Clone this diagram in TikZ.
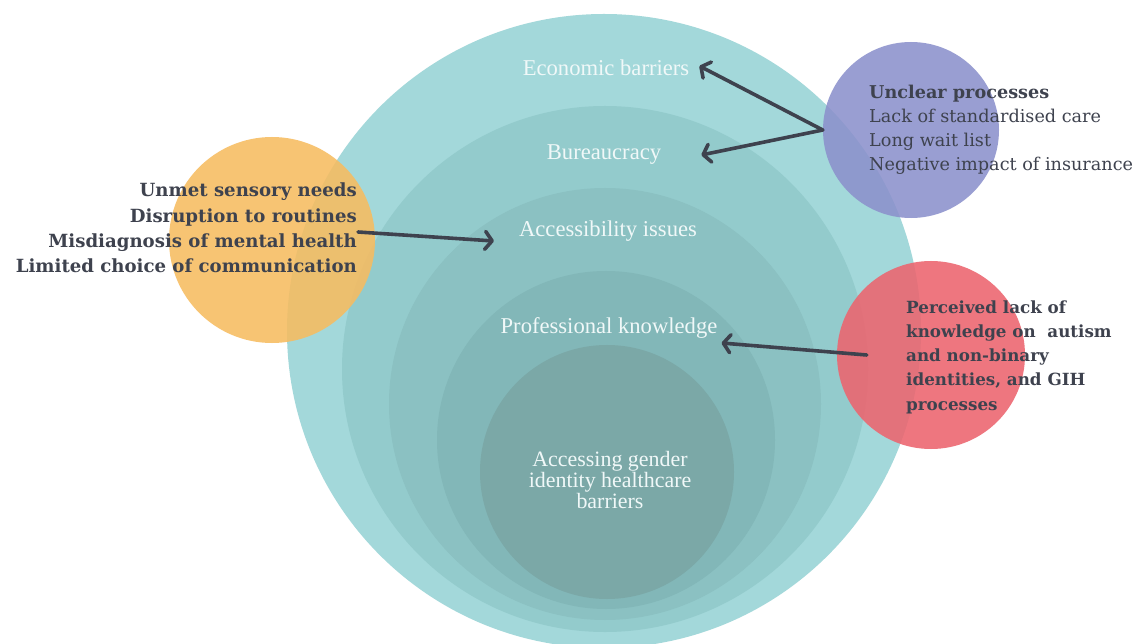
\documentclass[tikz,border=0pt]{standalone}
\usepackage{fontspec}
\setmainfont{Liberation Serif}
\newfontfamily\dvs{DejaVu Serif}
\usetikzlibrary{arrows.meta}
\definecolor{tealA}{RGB}{163,216,218}
\definecolor{tealB}{RGB}{147,203,204}
\definecolor{tealC}{RGB}{139,193,194}
\definecolor{tealD}{RGB}{130,183,184}
\definecolor{tealE}{RGB}{123,168,167}
\definecolor{orangeC}{RGB}{247,188,96}
\definecolor{purpleC}{RGB}{140,145,204}
\definecolor{redC}{RGB}{236,100,110}
\definecolor{inkC}{RGB}{62,66,78}
\definecolor{labelC}{RGB}{240,248,248}
\tikzset{
  layer/.style={circle, inner sep=0pt, draw=none},
  blob/.style={circle, inner sep=0pt, draw=none, fill opacity=0.88},
  whitelbl/.style={text=labelC, font=\fontsize{22.7}{22}\selectfont, inner sep=0pt, align=center},
  darklbl/.style={text=inkC, inner sep=0pt},
  arr/.style={draw=inkC, line width=3.6bp, line cap=round, -{Straight Barb[length=7bp, width=18bp, line cap=round, line join=round]}}
}
\begin{document}
\begin{tikzpicture}[x=1bp, y=-1bp]
\useasboundingbox (0,0) rectangle (1139,644);
\fill[white] (0,0) rectangle (1139,644);
% nested circles
\node[layer, fill=tealA, minimum size=634bp] (L1) at (604,331) {};
\node[layer, fill=tealB, minimum size=526bp] (L2) at (605,369) {};
\node[layer, fill=tealC, minimum size=432bp] (L3) at (605,404) {};
\node[layer, fill=tealD, minimum size=338bp] (L4) at (606,440) {};
\node[layer, fill=tealE, minimum size=254bp] (L5) at (607,472) {};
% side circles
\node[blob, fill=orangeC, minimum size=206bp] (OR) at (272,240) {};
\node[blob, fill=purpleC, minimum size=176bp] (PU) at (911,130) {};
\node[blob, fill=redC, minimum size=188bp] (RE) at (931,355) {};
% layer labels
\node[whitelbl] (econ) at (606,68) {Economic barriers};
\node[whitelbl] (bur) at (604,155) {Bureaucracy};
\node[whitelbl] (acc) at (608,231) {Accessibility issues};
\node[whitelbl] (prof) at (609,328) {Professional knowledge};
\node[whitelbl, font=\fontsize{22}{19.5}\selectfont] (core) at (610,480) {Accessing gender\\identity healthcare\\barriers};
% side texts
\node[darklbl, anchor=east, align=right, font=\dvs\bfseries\fontsize{18.2}{25.5}\selectfont] (ortext) at (357,228) {Unmet sensory needs\\Disruption to routines\\Misdiagnosis of mental health\\Limited choice of communication};
\node[darklbl, anchor=west, align=left, font=\dvs\fontsize{17.7}{24}\selectfont] (putext) at (869,130) {{\bfseries Unclear processes}\\Lack of standardised care\\Long wait list\\Negative impact of insurance};
\node[darklbl, anchor=west, align=left, font=\dvs\bfseries\fontsize{16.8}{24.3}\selectfont] (retext) at (906,357) {Perceived lack of\\knowledge on~ autism\\and non-binary\\identities, and GIH\\processes};
% arrows
\coordinate (pustart) at (PU.west);
\draw[arr] (pustart) -- ([xshift=10bp,yshift=2bp]econ.east);
\draw[arr] (pustart) -- ([xshift=40bp]bur.east);
\draw[arr] ([xshift=1bp,yshift=-4bp]ortext.east) -- ([xshift=-25bp,yshift=-10bp]acc.west);
\draw[arr] ([xshift=30bp]RE.west) -- ([xshift=4bp,yshift=-15bp]prof.east);
\end{tikzpicture}
\end{document}
